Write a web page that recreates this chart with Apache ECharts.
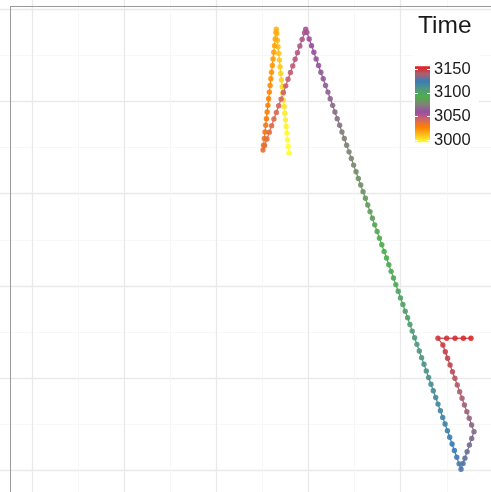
<!DOCTYPE html>
<html><head><meta charset="utf-8">
<script src="https://cdn.jsdelivr.net/npm/echarts@6/dist/echarts.min.js"></script>
<style>html,body{margin:0;padding:0;background:#fff}#c{width:491px;height:492px}</style>
</head><body><div id="c"></div>
<script>
// ---- data ----
const xs = [
 27.86,27.79,27.71,27.64,27.57,27.49,27.42,27.35,27.27,27.20,27.13,27.05,26.98,26.90,26.83,26.76,26.68,26.61,26.54,26.49,
 26.45,26.37,26.30,26.22,26.14,26.06,25.98,25.90,25.82,25.74,25.66,25.58,25.50,25.42,25.35,25.27,25.19,25.11,25.05,
 25.22,25.48,25.73,25.99,26.24,26.50,26.75,27.01,27.26,27.52,27.77,28.03,28.28,28.54,28.79,29.05,29.30,29.56,29.69,
 29.81,30.06,30.32,30.57,30.82,31.08,31.33,31.59,31.84,32.10,32.35,32.61,32.86,33.11,33.37,33.62,33.88,34.13,34.39,34.64,
 34.89,35.15,35.40,35.66,35.91,36.17,36.42,36.67,36.93,37.18,37.44,37.69,37.95,38.20,38.46,38.71,38.96,39.22,39.47,39.73,
 39.98,40.24,40.49,40.75,41.00,41.25,41.51,41.76,42.02,42.27,42.53,42.78,43.03,43.29,43.54,43.80,44.05,44.31,44.56,44.82,
 45.07,45.32,45.58,45.83,46.09,46.34,46.55,
 46.77,46.97,47.21,47.46,47.71,47.96,
 47.70,47.44,47.18,46.92,46.66,46.40,46.14,45.88,45.62,45.36,45.09,44.84,44.58,44.05,
 44.99,45.90,46.80,47.63
];
const ys = [
 34.41,35.13,35.85,36.57,37.29,38.01,38.73,39.45,40.17,40.89,41.61,42.33,43.05,43.77,44.49,45.21,45.93,46.65,47.37,47.83,
 47.50,46.78,46.06,45.34,44.62,43.90,43.18,42.46,41.74,41.02,40.30,39.58,38.86,38.14,37.42,36.70,35.98,35.26,34.74,
 35.22,35.94,36.66,37.38,38.10,38.82,39.54,40.26,40.98,41.70,42.42,43.14,43.86,44.58,45.30,46.02,46.74,47.46,47.83,
 47.50,46.78,46.06,45.34,44.62,43.90,43.18,42.46,41.74,41.02,40.30,39.58,38.86,38.14,37.42,36.70,35.98,35.26,34.54,33.82,
 33.10,32.38,31.66,30.94,30.22,29.50,28.78,28.06,27.34,26.62,25.90,25.18,24.46,23.74,23.02,22.30,21.58,20.86,20.14,19.42,
 18.70,17.98,17.26,16.54,15.82,15.10,14.38,13.66,12.94,12.22,11.50,10.78,10.06,9.34,8.62,7.90,7.18,6.46,5.74,5.02,
 4.30,3.58,2.86,2.14,1.42,0.70,0.11,
 0.75,1.32,2.02,2.74,3.46,4.19,
 4.91,5.64,6.36,7.08,7.81,8.52,9.25,9.98,10.69,11.42,12.15,12.86,13.59,14.32,
 14.32,14.32,14.32,14.32
];
const times = [
 2994,2995,2996,2997,2998,2999,3000,3002,3003,3004,3005,3006,3007,3008,3009,3010,3011,3012,3013,3014,
 3016,3017,3018,3019,3020,3021,3022,3023,3024,3025,3026,3027,3028,3030,3031,3032,3033,3034,3035,3036,
 3037,3038,3039,3040,3041,3042,3043,3045,3046,3047,3048,3049,3050,3051,3052,3053,3054,3055,3056,3057,
 3059,3060,3061,3062,3063,3064,3065,3066,3067,3068,3069,3070,3071,3073,3074,3075,3076,3077,3078,3079,
 3080,3081,3082,3083,3084,3085,3086,3088,3089,3090,3091,3092,3093,3094,3095,3096,3097,3098,3099,3100,
 3102,3103,3104,3105,3106,3107,3108,3109,3110,3111,3112,3113,3114,3116,3117,3118,3119,3120,3121,3122,
 3123,3124,3125,3126,3127,3128,3129,3131,3132,3133,3134,3135,3136,3137,3138,3139,3140,3141,3142,3143,
 3145,3146,3147,3148,3149,3150,3151,3152,3153
];
const legendTicks = [3000, 3050, 3100, 3150];
const timeMin = 2995, timeMax = 3156;
const palette = ['#FFFF33','#FFBE1A','#FF7F00','#D26563','#984EA3','#808475','#4DAF4A','#539780','#377EB8','#AF5F6C','#E41A1C'];

// ---- build ----
const pts = xs.map((x,i)=>[x, ys[i], times[i]]);
const segs = [];
for (let i=0;i<pts.length-1;i++) segs.push([pts[i][0],pts[i][1],pts[i][2],pts[i+1][0],pts[i+1][1]]);

const chart = echarts.init(document.getElementById('c'), null, {renderer:'canvas'});

// legend geometry
const barX = 415, barW = 15;
const valToY = v => 140 - (v - 3000) * 0.4733;
const barTop = valToY(timeMax), barBot = valToY(timeMin);
const stops = palette.map((c,i)=>({offset: i/(palette.length-1), color: c}));
const font = '"Liberation Sans", Arial, Helvetica, sans-serif';
const gfx = [
  {type:'rect', z:100, shape:{x:413,y:12,width:66,height:135}, style:{fill:'#fff'}},
  {type:'text', z:101, style:{text:'Time', x:418, y:26, font:'24.5px '+font, fill:'#1a1a1a', textVerticalAlign:'middle'}},
  {type:'rect', z:101, shape:{x:barX,y:barTop,width:barW,height:barBot-barTop},
    style:{fill:new echarts.graphic.LinearGradient(0,1,0,0,stops)}}
];
legendTicks.forEach(v=>{
  const y = Math.round(valToY(v))+0.5;
  gfx.push({type:'line', z:102, shape:{x1:barX,y1:y,x2:barX+3,y2:y}, style:{stroke:'#fff',lineWidth:1}});
  gfx.push({type:'line', z:102, shape:{x1:barX+barW-3,y1:y,x2:barX+barW,y2:y}, style:{stroke:'#fff',lineWidth:1}});
  gfx.push({type:'text', z:101, style:{text:String(v), x:434, y:valToY(v), font:'16.5px '+font, fill:'#1a1a1a', textVerticalAlign:'middle'}});
});
gfx.push({type:'line', z:103, shape:{x1:10,y1:6.5,x2:491,y2:6.5}, style:{stroke:'#9a9a9a',lineWidth:1}});
gfx.push({type:'line', z:103, shape:{x1:10.5,y1:6,x2:10.5,y2:492}, style:{stroke:'#9a9a9a',lineWidth:1}});

const axisCommon = {
  type:'value', interval:10,
  axisLabel:{show:false}, axisLine:{show:false}, axisTick:{show:false},
  splitLine:{show:true, lineStyle:{color:'#e9e9e9', width:1.3}},
  minorTick:{show:false, splitNumber:2},
  minorSplitLine:{show:true, lineStyle:{color:'#f5f5f5', width:0.8}}
};

chart.setOption({
  animation:false,
  backgroundColor:'#fff',
  grid:{left:-59.8, top:-82.9, width:552.6, height:645.4, containLabel:false, outerBoundsMode:'none'},
  xAxis:Object.assign({min:-10, max:50}, axisCommon),
  yAxis:Object.assign({min:-10, max:60}, axisCommon),
  visualMap:{type:'continuous', show:false, dimension:2, min:timeMin, max:timeMax,
    seriesIndex:[0,1], inRange:{color:palette}},
  series:[
    {type:'custom', data:segs, encode:{x:[0,3], y:[1,4]}, z:2,
      renderItem:(params, api)=>{
        const p1 = api.coord([api.value(0), api.value(1)]);
        const p2 = api.coord([api.value(3), api.value(4)]);
        return {type:'line', shape:{x1:p1[0],y1:p1[1],x2:p2[0],y2:p2[1]},
          style:{stroke:api.visual('color'), lineWidth:1.2}};
      }},
    {type:'scatter', data:pts, encode:{x:0,y:1}, symbolSize:5.4, z:3,
      itemStyle:{opacity:0.9}}
  ],
  graphic:gfx
});
</script></body></html>
